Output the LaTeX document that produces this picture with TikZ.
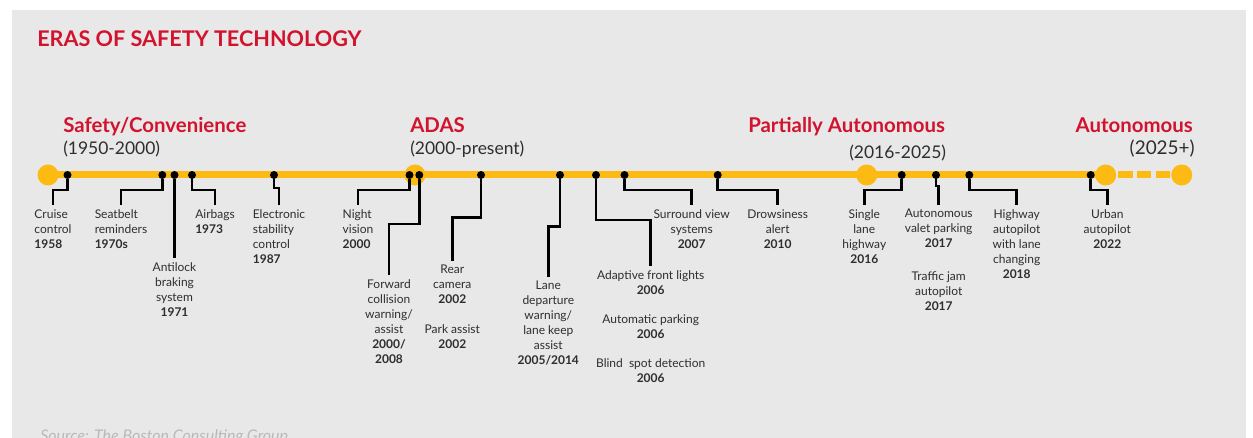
\documentclass[tikz,border=0pt]{standalone}
\usepackage{fontspec}
\setmainfont{Lato}
\definecolor{eraRed}{HTML}{D2132E}
\definecolor{lineYellow}{HTML}{FDBA12}
\definecolor{paper}{HTML}{E8E8E8}
\definecolor{ink}{HTML}{2E2E2E}
\definecolor{faint}{HTML}{B9B9B9}
\tikzset{timeline/.style={lineYellow,line width=5.25pt},
 bigdot/.style={circle,fill=lineYellow,minimum size=15.75pt,inner sep=0pt},
 dot/.style={circle,fill=black,minimum size=6pt,inner sep=0pt},
 link/.style={line width=1.9pt,black},
 title/.style={font=\fontsize{16.2}{18}\selectfont\bfseries,text=eraRed,inner sep=0pt},
 era/.style={font=\fontsize{15.3}{17}\selectfont\bfseries,text=eraRed,inner sep=0pt},
 span/.style={font=\fontsize{13.1}{15}\selectfont,text=ink,inner sep=0pt},
 lbl/.style={font=\fontsize{9}{11.25}\selectfont,text=ink,align=center,anchor=north,inner xsep=0pt,inner ysep=3pt},
 source/.style={font=\fontsize{12}{14}\selectfont\itshape,text=faint,inner sep=0pt}}

\begin{document}
\begin{tikzpicture}[x=0.75pt,y=-0.75pt]
\useasboundingbox (0,0) rectangle (1253,438);
\fill[paper] (12,10) rectangle (1246,445);

% headings
\node[title,anchor=base west] (head) at (37,46.7) {ERAS OF SAFETY TECHNOLOGY};
\node[era,anchor=base west] (e1) at (63,132.5) {Safety/Convenience};
\node[span,anchor=base west] (s1) at (63,155) {(1950-2000)};
\node[era,anchor=base west] (e2) at (410,132.5) {ADAS};
\node[span,anchor=base west] (s2) at (410,155) {(2000-present)};
\node[era,anchor=base west] (e3) at (748,133) {Partially Autonomous};
\node[span,anchor=base west] (s3) at (849,159) {(2016-2025)};
\node[era,anchor=base east] (e4) at (1193,133) {Autonomous};
\node[span,anchor=base east,font=\fontsize{14.2}{16}\selectfont] (s4) at (1195,155) {(2025+)};

% the line
\foreach \x/\n in {48/a,415/b,866.7/c,1105.7/d,1181.7/e}
 \node[bigdot] (m\n) at (\x,175) {};
\draw[timeline] (ma.center) -- (md.center);
\draw[timeline,dash pattern=on 10.6pt off 3.5pt,shorten <=1.5pt] (md) -- (me);
\foreach \x/\n in {67.5/1,162.3/2,174.5/3,192/4,274/5,409.5/6,419.3/7,481/8,560/9,
 596/10,624.5/11,717.7/12,901.7/13,936/14,969.3/15,1090.7/16}
 \node[dot] (d\n) at (\x,175) {};

% labels
\node[lbl,align=left] (l1) at (53,205) {Cruise\\control\\\textbf{1958}};
\node[lbl,align=left] (l2) at (121,205) {Seatbelt\\reminders\\\textbf{1970s}};
\node[lbl] (l3) at (174.5,258) {Antilock\\braking\\system\\\textbf{1971}};
\node[lbl,align=left] (l4) at (215,205) {Airbags\\\textbf{1973}};
\node[lbl,align=left] (l5) at (279,205) {Electronic\\stability\\control\\\textbf{1987}};
\node[lbl,align=left] (l6) at (358,205) {Night\\vision\\\textbf{2000}};
\node[lbl] (l7) at (389,275) {Forward\\collision\\warning/\\assist\\\textbf{2000/}\\\textbf{2008}};
\node[lbl] (l8) at (452.3,261) {Rear\\camera\\\textbf{2002}};
\node[lbl] (l8b) at (452.3,320.5) {Park assist\\\textbf{2002}};
\node[lbl] (l9) at (548.3,277) {Lane\\departure\\warning/\\lane keep\\assist\\\textbf{2005/2014}};
\node[lbl] (l10) at (650.7,266) {Adaptive front lights\\\textbf{2006}};
\node[lbl] (l10b) at (650.7,310.5) {Automatic parking\\\textbf{2006}};
\node[lbl] (l10c) at (650.7,354.5) {Blind\ \ spot detection\\\textbf{2006}};
\node[lbl] (l11) at (691.7,205) {Surround view\\systems\\\textbf{2007}};
\node[lbl] (l12) at (777.7,205) {Drowsiness\\alert\\\textbf{2010}};
\node[lbl] (l13) at (864.3,205) {Single\\lane\\highway\\\textbf{2016}};
\node[lbl] (l14) at (938.7,205) {Autonomous\\valet parking\\\textbf{2017}};
\node[lbl] (l14b) at (938.7,267.5) {Traffic jam\\autopilot\\\textbf{2017}};
\node[lbl] (l15) at (1016.7,205) {Highway\\autopilot\\with lane\\changing\\\textbf{2018}};
\node[lbl] (l16) at (1107.3,205) {Urban\\autopilot\\\textbf{2022}};

% connectors
\foreach \n/\y in {1/190,2/190,4/190,5/188,6/190,7/224,8/217.7,9/226.7,10/220,
 11/190,12/190,13/190,14/186,15/190,16/190}
 \draw[link] (d\n) -- (d\n |- 0,\y) -| (l\n.north);
\draw[link] (d3) -- (l3.north);

\node[source,anchor=base west] (src) at (40,441) {Source: The Boston Consulting Group};
\end{tikzpicture}
\end{document}
